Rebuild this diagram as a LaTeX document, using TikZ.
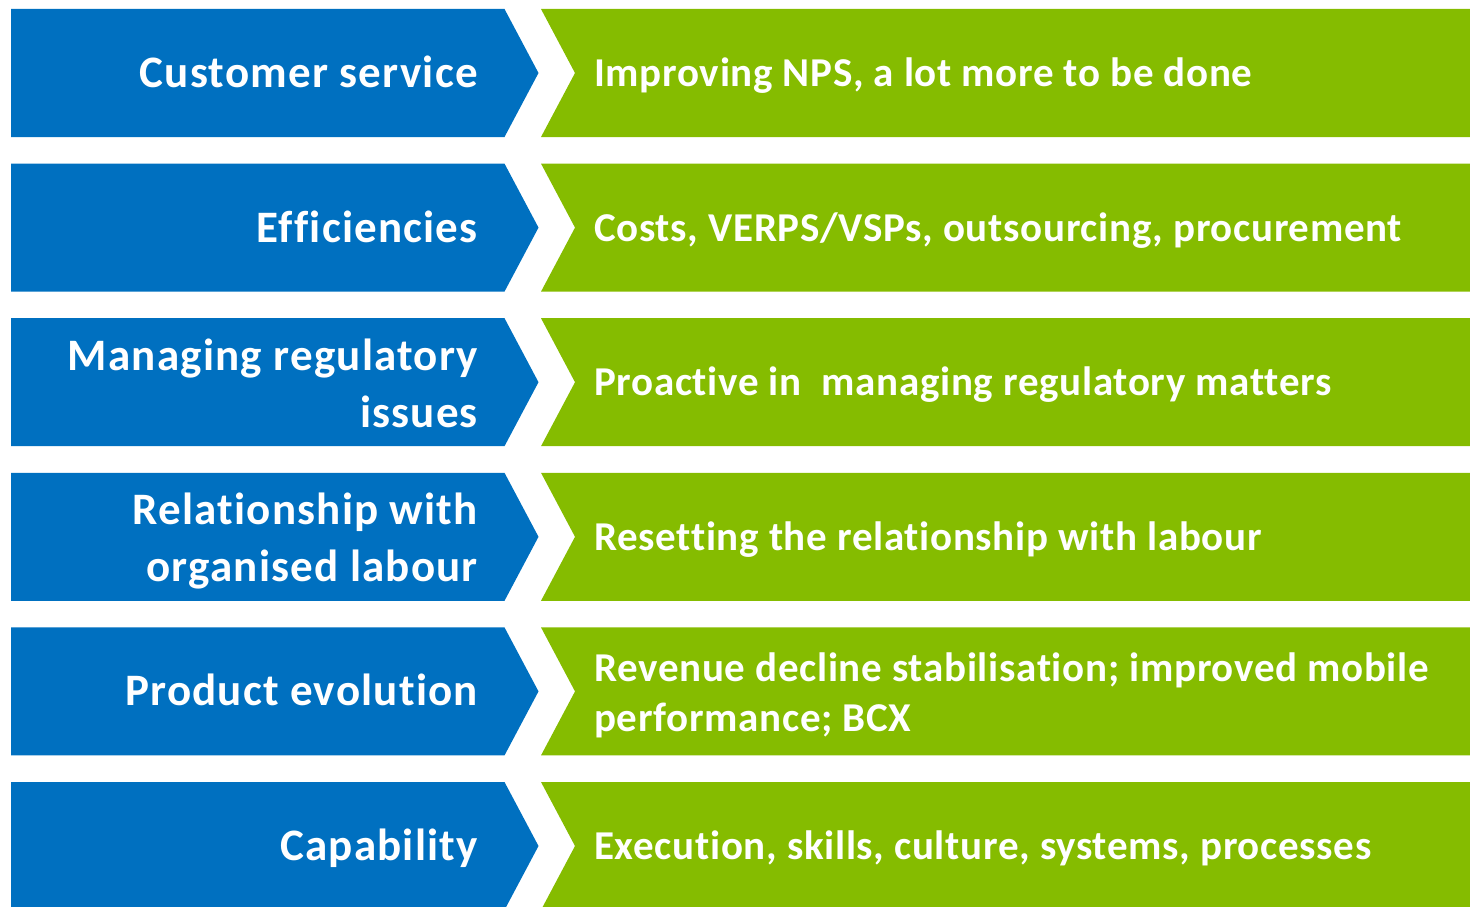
\documentclass[tikz,border=0pt]{standalone}
\usepackage{fontspec}
\setmainfont{Carlito}
\newfontfamily\topicfont[LetterSpace=2.7,Ligatures=NoCommon]{Carlito}
\newfontfamily\statusfont[LetterSpace=1.7,Ligatures=NoCommon]{Carlito}
\definecolor{bandblue}{HTML}{0070C0}
\definecolor{bandgreen}{HTML}{85BC00}
\begin{document}
\begin{tikzpicture}[x=1pt,y=-1pt,
  cardtext/.style={inner sep=0pt, text=white},
  topic/.style={cardtext, anchor=base east, align=right,
    font=\topicfont\fontsize{45}{56.7}\selectfont\bfseries},
  status/.style={cardtext, anchor=base west, align=left,
    font=\statusfont\fontsize{41}{50}\selectfont\bfseries},
  chevron/.style={fill=bandblue},
  band/.style={fill=bandgreen},
]
\useasboundingbox (0,0) rectangle (1470,907);
\clip (0,0) rectangle (1470,907);

% six rows: blue chevron on the left, notched green band on the right
\foreach \t in {9,163.6,318.2,472.8,627.4,782}{
  \path[chevron] (11,\t) -- (504.5,\t) -- (538.5,\t+64) -- (504.5,\t+128) -- (11,\t+128) -- cycle;
  \path[band] (541,\t) -- (1470,\t) -- (1470,\t+128) -- (541,\t+128) -- (575,\t+64) -- cycle;
}

% topics (multi-line nodes are placed by the baseline of their last line)
\node[topic] (t1) at (478,87.5)  {Customer service};
\node[topic] (t2) at (478,242.1) {Efficiencies};
\node[topic] (t3) at (478,427)   {Managing regulatory\\issues};
\node[topic] (t4) at (478,581.6) {Relationship with\\organised labour};
\node[topic] (t5) at (478,705.9) {Product evolution};
\node[topic] (t6) at (478,860.5) {Capability};

% status notes
\node[status] (s1) at (594,86.7)  {Improving NPS, a lot more to be done};
\node[status] (s2) at (594,241.3) {Costs, VERPS/VSPs, outsourcing, procurement};
\node[status] (s3) at (594,395.9) {Proactive in\ \ managing regulatory matters};
\node[status] (s4) at (594,550.5) {Resetting the relationship with labour};
\node[status] (s5) at (594,731.7) {Revenue decline stabilisation; improved mobile\\performance; BCX};
\node[status] (s6) at (594,859.7) {Execution, skills, culture, systems, processes};
\end{tikzpicture}
\end{document}
